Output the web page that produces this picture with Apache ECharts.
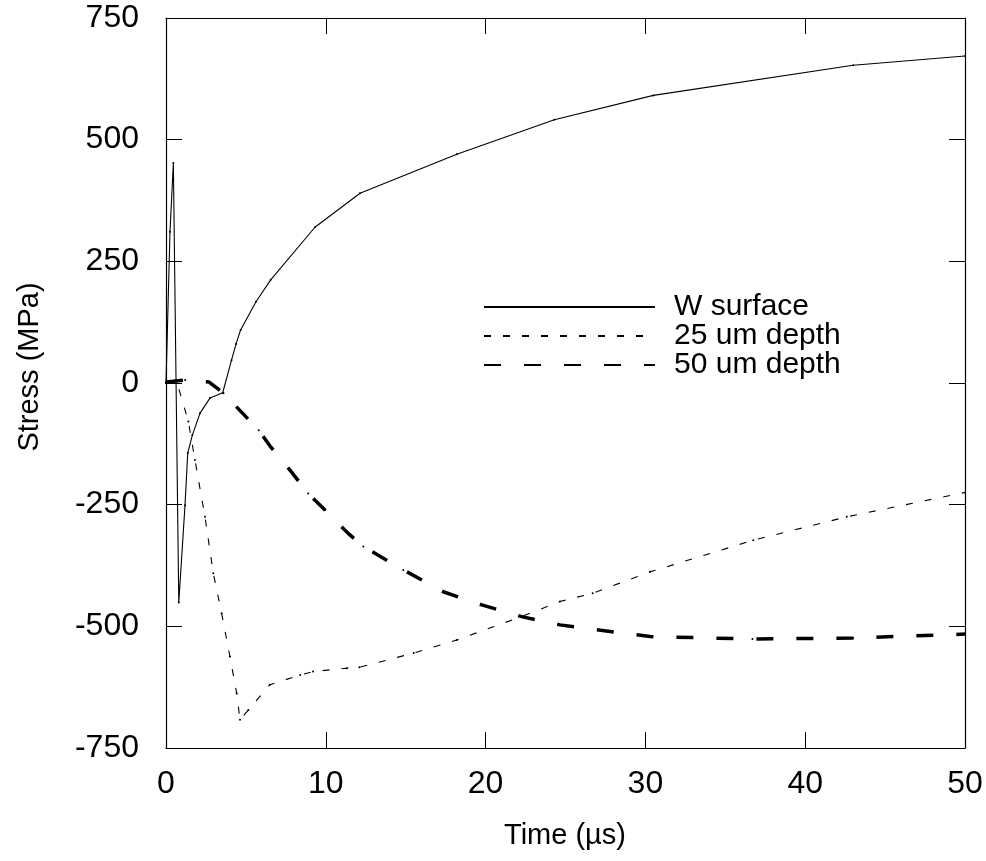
<!DOCTYPE html>
<html>
<head>
<meta charset="utf-8">
<script src="https://cdn.jsdelivr.net/npm/echarts@6/dist/echarts.min.js"></script>
<style>
html,body{margin:0;padding:0;background:#fff;}
#chart{width:986px;height:861px;}
</style>
</head>
<body>
<div id="chart"></div>
<script>
// ---- data (time in µs, stress in MPa) ----
const seriesNames = ['W surface', '25 um depth', '50 um depth'];
const xTicks = [0, 10, 20, 30, 40, 50];
const yTicks = [-750, -500, -250, 0, 250, 500, 750];

const wSurface = [
  [0, 0], [0.25, 311], [0.46, 452], [0.8, -451], [1.19, -251], [1.36, -144],
  [1.65, -107], [2.13, -62], [2.75, -31], [3.55, -20], [4.1, 47], [4.38, 80],
  [4.67, 109], [5.63, 167], [6.55, 212], [9.32, 320], [12.14, 390], [18.2, 470],
  [24.3, 541], [30.5, 591], [43, 653], [50, 672]
];
const depth25 = [
  [0, 0], [0.67, 3], [1.4, -79], [1.81, -158], [2.44, -275], [2.96, -391],
  [3.48, -473], [4.0, -562], [4.42, -637], [4.63, -692], [5.15, -672], [6.5, -620],
  [8.4, -600], [9.2, -593], [11.3, -586], [12.1, -584], [15.5, -555], [18.2, -528],
  [22.25, -480], [24.65, -449], [26.7, -432], [30.3, -388], [36.75, -323],
  [42.6, -275], [50, -225]
];
const depth50 = [
  [0, 2], [1.2, 6], [2.7, 2], [3.6, -21], [5.8, -97], [6.5, -129], [7.76, -179],
  [8.9, -227], [9.95, -261], [11.4, -309], [12.35, -336], [14.85, -384],
  [17.35, -429], [19.76, -456], [22.25, -480], [24.65, -497], [27.2, -508],
  [30.3, -521], [36.7, -526], [43, -524], [50, -516]
];

const FONT = '"Liberation Sans", Arial, sans-serif';
const chart = echarts.init(document.getElementById('chart'), null, {renderer: 'canvas'});

const xMin = xTicks[0], xMax = xTicks[xTicks.length - 1];
const yMin = yTicks[0], yMax = yTicks[yTicks.length - 1];
const xInt = xTicks[1] - xTicks[0], yInt = yTicks[1] - yTicks[0];

function axisBase(extra) {
  return Object.assign({
    type: 'value',
    axisLine: {show: true, onZero: false, lineStyle: {color: '#000', width: 1.2}},
    axisTick: {show: true, inside: true, length: 16, lineStyle: {color: '#000', width: 1}},
    splitLine: {show: false}
  }, extra);
}

const legendItem = (name, top) => ({
  data: [name], orient: 'vertical', left: 483, top: top, padding: 0,
  itemWidth: 171, itemHeight: 14, selectedMode: false,
  itemStyle: {opacity: 0},
  textStyle: {fontSize: 30, fontFamily: FONT, color: '#000', padding: [0, 0, 0, 14]}
});

chart.setOption({
  animation: false,
  backgroundColor: '#fff',
  grid: {left: 166, right: 21, top: 18, bottom: 113, containLabel: false},
  xAxis: [
    axisBase({min: xMin, max: xMax, interval: xInt, position: 'bottom',
      axisLabel: {fontSize: 32, fontFamily: FONT, color: '#000', margin: 20, showMinLabel: true, showMaxLabel: true}}),
    axisBase({min: xMin, max: xMax, interval: xInt, position: 'top', axisLabel: {show: false}})
  ],
  yAxis: [
    axisBase({min: yMin, max: yMax, interval: yInt, position: 'left',
      axisLabel: {fontSize: 32, fontFamily: FONT, color: '#000', margin: 27, showMinLabel: true, showMaxLabel: true}}),
    axisBase({min: yMin, max: yMax, interval: yInt, position: 'right', axisLabel: {show: false}})
  ],
  legend: [
    legendItem(seriesNames[0], 292),
    legendItem(seriesNames[1], 321),
    legendItem(seriesNames[2], 350)
  ],
  graphic: [
    {type: 'text', x: 565, y: 836, style: {text: 'Time (\u00b5s)', font: '29px ' + FONT, fill: '#000', textAlign: 'center', textVerticalAlign: 'middle'}},
    {type: 'text', x: 30, y: 367, rotation: Math.PI / 2, style: {text: 'Stress (MPa)', font: '29px ' + FONT, fill: '#000', textAlign: 'center', textVerticalAlign: 'middle'}}
  ],
  series: [
    {name: seriesNames[0], type: 'line', data: wSurface, symbol: 'circle', symbolSize: 2,
      itemStyle: {color: '#000'}, lineStyle: {color: '#000', width: 1.1, type: 'solid'}, z: 3},
    {name: seriesNames[1], type: 'line', data: depth25, symbol: 'circle', symbolSize: 2,
      itemStyle: {color: '#000'}, lineStyle: {color: '#000', width: 1.1, type: [7, 12]}, z: 2},
    {name: seriesNames[2], type: 'line', data: depth50, symbol: 'circle', symbolSize: 2,
      itemStyle: {color: '#000'}, lineStyle: {color: '#000', width: 3.5, type: [17, 23]}, z: 2}
  ]
});
</script>
</body>
</html>
